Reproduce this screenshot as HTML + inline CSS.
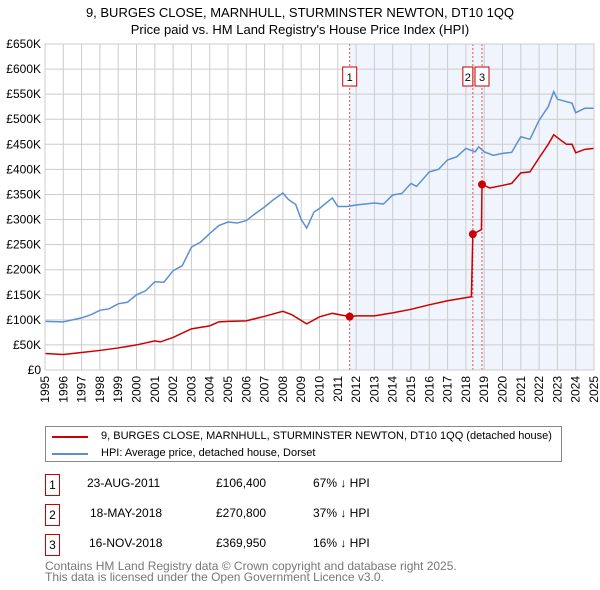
<!DOCTYPE html>
<html><head><meta charset="utf-8"><style>
body{margin:0;background:#fff;font-family:"Liberation Sans","DejaVu Sans",sans-serif;}
#wrap{position:relative;width:600px;height:590px;overflow:hidden}
.t{position:absolute;font-size:12px;color:#000;white-space:nowrap}
</style></head><body><div id="wrap">
<svg id="c" width="600" height="420" style="position:absolute;left:0;top:0">
<text x="300" y="17" text-anchor="middle" font-size="13">9, BURGES CLOSE, MARNHULL, STURMINSTER NEWTON, DT10 1QQ</text>
<text x="300" y="34" text-anchor="middle" font-size="13">Price paid vs. HM Land Registry's House Price Index (HPI)</text>
</svg>
<div style="position:absolute;left:45px;top:426px;width:515px;height:34px;border:1px solid #888">
<div style="position:absolute;left:6px;top:9px;width:36px;height:2px;background:#cc0000"></div>
<div class="t" style="left:55px;top:3px;font-size:11px">9, BURGES CLOSE, MARNHULL, STURMINSTER NEWTON, DT10 1QQ (detached house)</div>
<div style="position:absolute;left:6px;top:26px;width:36px;height:2px;background:#5b8fd4"></div>
<div class="t" style="left:55px;top:20px;font-size:11px">HPI: Average price, detached house, Dorset</div>
</div>
<div>
<div style="position:absolute;left:45px;top:474px;width:13px;height:20px;border:1px solid #cc0000;font-size:12px;text-align:center;line-height:20px">1</div>
<div class="t" style="left:87px;top:476px">23-AUG-2011</div>
<div class="t" style="left:216px;top:476px">£106,400</div>
<div class="t" style="left:313px;top:476px">67% ↓ HPI</div>
<div style="position:absolute;left:45px;top:504px;width:13px;height:20px;border:1px solid #cc0000;font-size:12px;text-align:center;line-height:20px">2</div>
<div class="t" style="left:90px;top:506px">18-MAY-2018</div>
<div class="t" style="left:216px;top:506px">£270,800</div>
<div class="t" style="left:313px;top:506px">37% ↓ HPI</div>
<div style="position:absolute;left:45px;top:534px;width:13px;height:20px;border:1px solid #cc0000;font-size:12px;text-align:center;line-height:20px">3</div>
<div class="t" style="left:89px;top:536px">16-NOV-2018</div>
<div class="t" style="left:216px;top:536px">£369,950</div>
<div class="t" style="left:313px;top:536px">16% ↓ HPI</div>
</div>
<div class="t" style="left:45px;top:561px;color:#777;line-height:11px">Contains HM Land Registry data © Crown copyright and database right 2025.<br>This data is licensed under the Open Government Licence v3.0.</div>
</div>
<script>
const hpiYears=[1995,1996,1996.5,1997,1997.5,1998,1998.5,1999,1999.5,2000,2000.5,2001,2001.5,2002,2002.5,2003,2003.5,2004,2004.5,2005,2005.5,2006,2006.5,2007,2007.5,2008,2008.3,2008.7,2009,2009.3,2009.7,2010,2010.7,2011,2011.5,2012,2012.5,2013,2013.5,2014,2014.5,2015,2015.3,2016,2016.5,2017,2017.5,2018,2018.5,2018.7,2019,2019.5,2020,2020.5,2021,2021.5,2022,2022.5,2022.8,2023,2023.5,2023.8,2024,2024.5,2025];
const hpiValues=[97,96,100,104,110,119,122,132,135,150,158,176,175,198,208,245,255,272,288,295,293,298,312,325,340,353,340,330,300,283,315,322,343,326,326,329,331,333,331,349,352,372,366,395,400,419,425,442,435,445,435,428,432,434,465,460,498,525,555,540,535,532,513,522,522];
const priceYears=[1995,1996,1997,1998,1999,2000,2001,2001.3,2002,2003,2004,2004.5,2005,2006,2007,2008,2008.5,2009.3,2010,2010.7,2011.65,2012,2013,2014,2015,2016,2017,2018.3,2018.38,2018.85,2018.88,2019.3,2020,2020.5,2021,2021.5,2022,2022.5,2022.8,2023.3,2023.5,2023.8,2024,2024.5,2025];
const priceValues=[33,31,35,39,44,50,58,56,65,82,88,96,97,98,107,117,110,92,106,113,106.4,108,108,114,121,130,138,146,270.8,280,369.95,363,368,372,393,395,423,450,469,455,450,450,433,440,442];
const saleYears=[2011.65,2018.38,2018.88];
const saleValues=[106.4,270.8,369.95];
const saleLabels=["1","2","3"];
const yTicks=[0,50,100,150,200,250,300,350,400,450,500,550,600,650];
const xTicks=[1995,1996,1997,1998,1999,2000,2001,2002,2003,2004,2005,2006,2007,2008,2009,2010,2011,2012,2013,2014,2015,2016,2017,2018,2019,2020,2021,2022,2023,2024,2025];
const L=45,R=594,T=44,B=370,x0=1995,x1=2025,yMax=650;
const X=v=>L+(v-x0)/(x1-x0)*(R-L);
const Y=v=>B-v/yMax*(B-T);
const svg=document.getElementById('c');const NS='http://www.w3.org/2000/svg';
function mk(t,a){const e=document.createElementNS(NS,t);for(const k in a)e.setAttribute(k,a[k]);svg.appendChild(e);return e;}
let e=mk('rect',{x:X(saleYears[0]),y:T,width:R-X(saleYears[0]),height:B-T,fill:'#f0f4fc'});


xTicks.forEach(v=>{const g=mk('line',{x1:X(v),x2:X(v),y1:T,y2:B,stroke:'#ccc','stroke-width':1});


const t=mk('text',{x:0,y:0,'font-size':12,'text-anchor':'end',transform:`translate(${X(v)+4},${B+6}) rotate(-90)`});t.textContent=v;

});
yTicks.forEach(v=>{const g=mk('line',{x1:L,x2:R,y1:Y(v),y2:Y(v),stroke:'#ccc','stroke-width':1});


const t=mk('text',{x:L-4,y:Y(v)+4,'font-size':12,'text-anchor':'end'});t.textContent=v===0?'£0':'£'+v+'K';

});
saleYears.forEach((v,i)=>{const l=mk('line',{x1:X(v),x2:X(v),y1:T,y2:B,stroke:'#e05050','stroke-width':1,'stroke-dasharray':'2,2'});


const bx=i===1?X(v)-10:X(v)-7;
const r=mk('rect',{x:bx,y:67,width:i===1?10:14,height:19,fill:'#fff',stroke:'#cc0000'});


const t=mk('text',{x:bx+(i===1?5:7),y:81,'font-size':11,'text-anchor':'middle'});t.textContent=saleLabels[i];

});
let p=mk('polyline',{points:hpiYears.map((v,i)=>X(v)+','+Y(hpiValues[i])).join(' '),fill:'none',stroke:'#5b8fd4','stroke-width':1.5});


p=mk('polyline',{points:priceYears.map((v,i)=>X(v)+','+Y(priceValues[i])).join(' '),fill:'none',stroke:'#cc0000','stroke-width':1.5});


saleYears.forEach((v,i)=>{const c=mk('circle',{cx:X(v),cy:Y(saleValues[i]),r:4,fill:'#cc0000'});

});
e=mk('rect',{x:L,y:T,width:R-L,height:B-T,fill:'none',stroke:'#ccc'});


</script></body></html>
